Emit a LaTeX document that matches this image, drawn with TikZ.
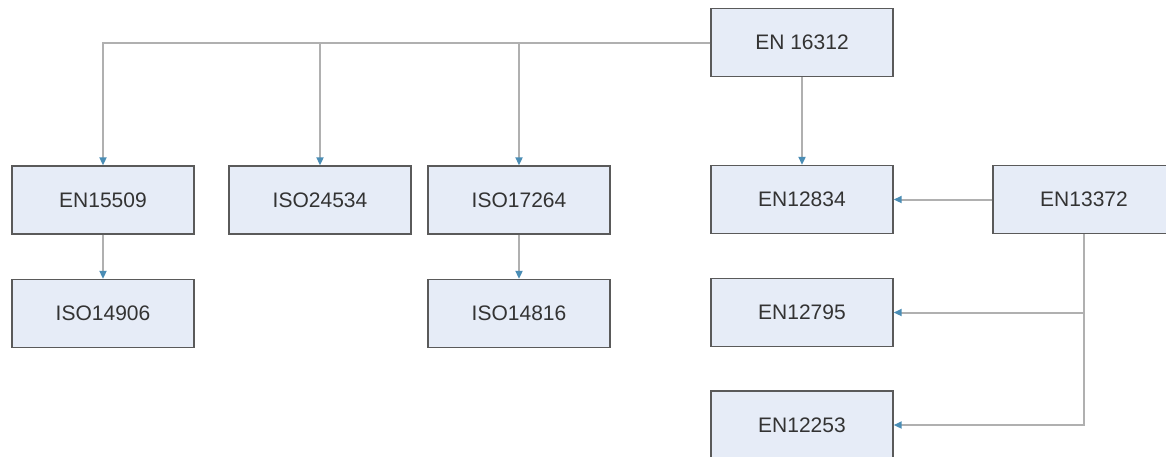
\documentclass[tikz,border=0pt]{standalone}
\usepackage{fontspec}
\setmainfont{Liberation Sans}
\usetikzlibrary{arrows.meta}
\definecolor{boxfill}{HTML}{E6ECF7}
\definecolor{boxline}{HTML}{5A5A5A}
\definecolor{linegrey}{HTML}{B0B0B0}
\definecolor{tipblue}{HTML}{4A8DB5}
\definecolor{txt}{HTML}{333333}
\tikzset{
  stdbox/.style={draw=boxline, line width=1.4pt, fill=boxfill, minimum width=182pt, minimum height=68pt, inner sep=0pt, text=txt, font=\fontsize{21}{25}\selectfont},
  conn/.style={draw=linegrey, line width=2pt, -{Triangle[length=8pt,width=7pt,color=tipblue]}},
}
\begin{document}
\begin{tikzpicture}[x=1pt,y=-1pt]
\useasboundingbox (0,0) rectangle (1166,456);
\clip (0,0) rectangle (1166,456);
\fill[white] (0,0) rectangle (1166,456);
\node[stdbox] (n16312) at (802,42.5) {EN 16312};
\node[stdbox] (n15509) at (103,200) {EN15509};
\node[stdbox] (n14906) at (103,313.5) {ISO14906};
\node[stdbox] (n24534) at (320,200) {ISO24534};
\node[stdbox] (n17264) at (519,200) {ISO17264};
\node[stdbox] (n14816) at (519,313.5) {ISO14816};
\node[stdbox] (n12834) at (802,199.5) {EN12834};
\node[stdbox] (n13372) at (1084,199.5) {EN13372};
\node[stdbox] (n12795) at (802,312.5) {EN12795};
\node[stdbox] (n12253) at (802,425) {EN12253};
% top tree
\draw[conn] (n16312.west) -| (n15509.north);
\draw[conn] (n24534.north |- n16312.west) -- (n24534.north);
\draw[conn] (n17264.north |- n16312.west) -- (n17264.north);
\draw[conn] (n16312.south) -- (n12834.north);
\draw[conn] (n15509.south) -- (n14906.north);
\draw[conn] (n17264.south) -- (n14816.north);
% right tree
\draw[conn] (n13372.west) -- (n12834.east);
\draw[conn] (n13372.south) |- (n12253.east);
\draw[conn] (n13372.south |- n12795.east) -- (n12795.east);
\end{tikzpicture}
\end{document}
